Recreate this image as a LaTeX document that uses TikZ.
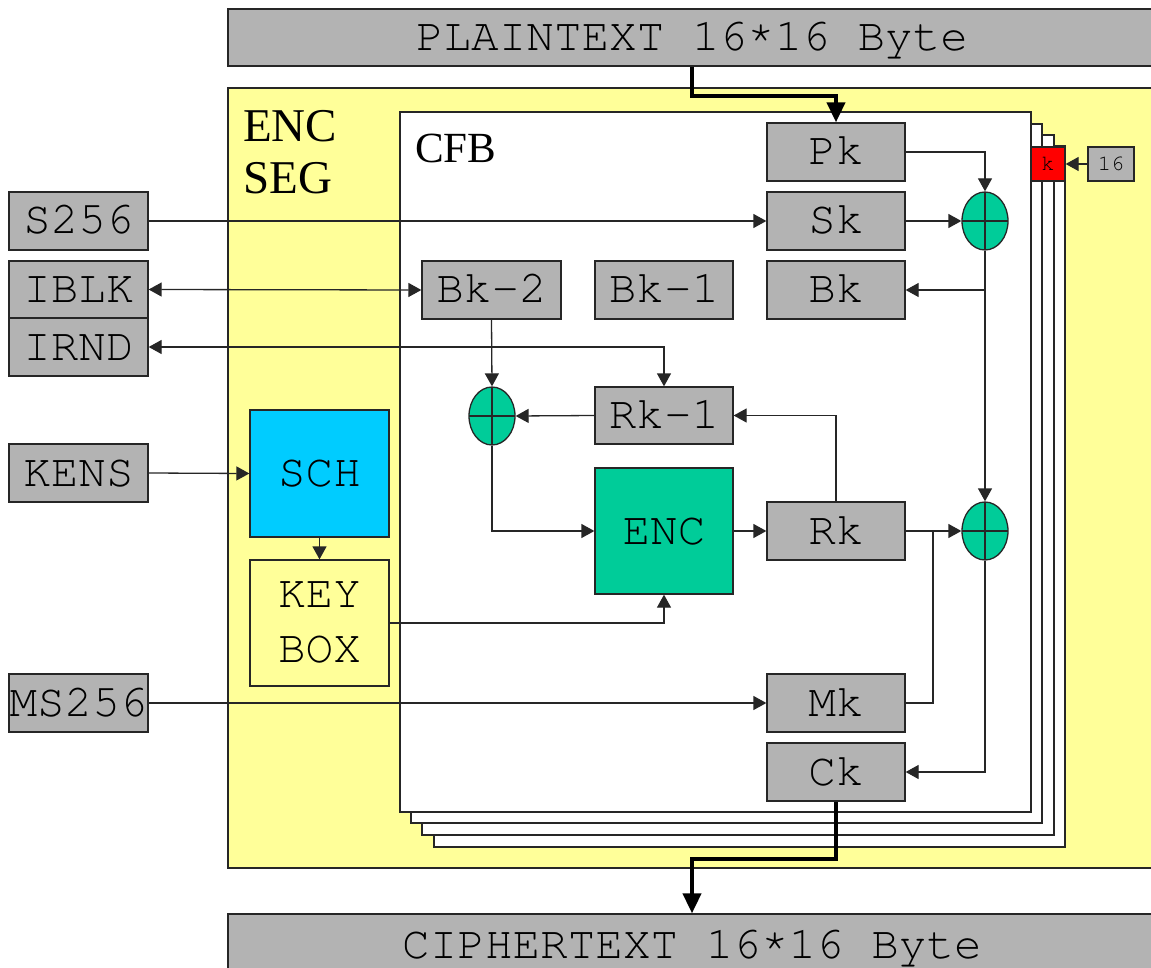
\documentclass[tikz,border=0pt]{standalone}
\usepackage[T1]{fontenc}
\usepackage{fontspec}
\newfontfamily\seriff{Liberation Serif}
\newcommand{\courierf}{\fontencoding{T1}\fontfamily{pcr}\fontseries{m}\fontshape{n}}
\newcommand{\hiast}{\raisebox{6pt}{*}}
\usetikzlibrary{arrows.meta,shapes.geometric}
\definecolor{boxgray}{HTML}{B3B3B3}
\definecolor{segyellow}{HTML}{FFFF99}
\definecolor{encgreen}{HTML}{00CC99}
\definecolor{schcyan}{HTML}{00CCFF}
\definecolor{linegray}{HTML}{262626}
\definecolor{keyred}{HTML}{FF0000}
\begin{document}
\begin{tikzpicture}[x=1pt,y=-1pt,line join=miter,
  monotext/.style={font=\courierf\fontsize{46}{55}\selectfont, text height=26pt, text depth=0pt},
  gbox/.style={monotext, draw=linegray, line width=1.3pt, fill=boxgray, minimum width=138pt, minimum height=58pt, inner sep=0pt},
  bigbox/.style={gbox, minimum width=928pt, minimum height=57pt},
  frame/.style={draw=linegray, line width=1.3pt, fill=white},
  xor/.style={ellipse, draw=linegray, line width=1.3pt, fill=encgreen, minimum width=46pt, minimum height=58pt, inner sep=0pt,
    path picture={\draw[linegray, line width=1.3pt] (path picture bounding box.north) -- (path picture bounding box.south)
      (path picture bounding box.west) -- (path picture bounding box.east);}},
  smalltext/.style={font=\courierf\fontsize{22}{26}\selectfont, text height=12.5pt, text depth=0pt},
  conn/.style={draw=linegray, line width=1.3pt},
  arr/.style={conn, -{Triangle[length=13pt,width=14pt]}},
  biarr/.style={conn, {Triangle[length=13pt,width=14pt]}-{Triangle[length=13pt,width=14pt]}},
  thickarr/.style={draw=black, line width=4pt, -{Triangle[length=20pt,width=18pt]}}
]
\useasboundingbox (0,0) rectangle (1151,968);
\clip (0,0) rectangle (1151,968);

% ENC SEG background
\draw[fill=segyellow, draw=linegray, line width=1.3pt] (228,88) rectangle (1170,868);
\node[anchor=north west, inner sep=0pt, align=left, font=\seriff\fontsize{47}{52}\selectfont] (seglabel) at (243,110) {ENC\\SEG};

% CFB stacked frames
\draw[frame] (434,146) rectangle (1065,847);
\draw[frame] (422,135) rectangle (1054,835);
\draw[frame] (411,124) rectangle (1042,823);
\draw[frame] (400,112) rectangle (1031,812);
\node[anchor=base west, inner sep=0pt, font=\seriff\fontsize{43}{50}\selectfont] (cfblabel) at (415,163) {CFB};

% big boxes
\node[bigbox] (plain) at (692,37.5) {PLAINTEXT 16\hiast16 Byte};
\node[bigbox, minimum height=62pt] (cipher) at (692,945) {CIPHERTEXT 16\hiast16 Byte};

% left inputs
\node[gbox, minimum width=139pt] (s256) at (78.5,221) {S256};
\node[gbox, minimum width=139pt, minimum height=57pt] (iblk) at (78.5,289.5) {IBLK};
\node[gbox, minimum width=139pt] (irnd) at (78.5,347) {IRND};
\node[gbox, minimum width=139pt] (kens) at (78.5,473) {KENS};
\node[gbox, minimum width=139pt] (ms256) at (78.5,703) {MS256};

% SCH and KEY BOX
\node[monotext, draw=linegray, line width=1.3pt, fill=schcyan, minimum width=139pt, minimum height=127pt, inner sep=0pt] (sch) at (319.5,473.5) {SCH};
\node[font=\courierf\fontsize{46}{55}\selectfont, align=center, draw=linegray, line width=1.3pt, fill=segyellow, minimum width=139pt, minimum height=126pt, inner sep=0pt] (keybox) at (319.5,623) {KEY\\BOX};

% CFB internals
\node[gbox] (pk) at (836,152) {Pk};
\node[gbox] (sk) at (836,221) {Sk};
\node[gbox] (bk) at (836,290) {Bk};
\node[gbox] (bk1) at (664,290) {Bk-1};
\node[gbox, minimum width=139pt] (bk2) at (491.5,290) {Bk-2};
\node[gbox, minimum height=57pt] (rk1) at (664,415.5) {Rk-1};
\node[gbox] (rk) at (836,531) {Rk};
\node[gbox] (mk) at (836,703) {Mk};
\node[gbox] (ck) at (836,772) {Ck};
\node[monotext, draw=linegray, line width=1.3pt, fill=encgreen, minimum width=138pt, minimum height=126pt, inner sep=0pt] (enc) at (664,531) {ENC};
\node[xor] (xor1) at (985,221) {};
\node[xor] (xor2) at (985,531) {};
\node[xor] (xor3) at (492,416) {};
\node[smalltext, draw=linegray, line width=1.3pt, fill=keyred, minimum width=34pt, minimum height=34pt, inner sep=0pt] (kbox) at (1048,164) {k};
\node[smalltext, draw=linegray, line width=1.3pt, fill=boxgray, minimum width=46pt, minimum height=34pt, inner sep=0pt] (n16) at (1111,164) {16};
\coordinate (mkjoin) at (933,531);

% connectors
\draw[thickarr] (plain.south) -- ++(0,29) -| (pk.north);
\draw[thickarr] (ck.south) -- ++(0,57) -| (cipher.north);
\draw[arr] (pk.east) -| (xor1.north);
\draw[arr] (sk.east) -- (xor1.west);
\draw[arr] (s256.east) -- (sk.west);
\draw[arr] (xor1.south) -- (xor2.north);
\draw[arr] (xor1.south |- bk.east) -- (bk.east);
\draw[biarr] (iblk.east) -- (bk2.west);
\draw[biarr] (irnd.east) -| (rk1.north);
\draw[arr] (bk2.south) -- (xor3.north);
\draw[arr] (rk1.west) -- (xor3.east);
\draw[arr] (xor3.south) |- (enc.west);
\draw[arr] (enc.east) -- (rk.west);
\draw[arr] (rk.north) |- (rk1.east);
\draw[arr] (rk.east) -- (xor2.west);
\draw[conn] (mk.east) -| (mkjoin);
\draw[arr] (xor2.south) |- (ck.east);
\draw[arr] (kens.east) -- (sch.west);
\draw[arr] (sch.south) -- (keybox.north);
\draw[arr] (keybox.east) -| (enc.south);
\draw[arr] (ms256.east) -- (mk.west);
\draw[arr] (n16.west) -- (kbox.east);
\end{tikzpicture}
\end{document}
